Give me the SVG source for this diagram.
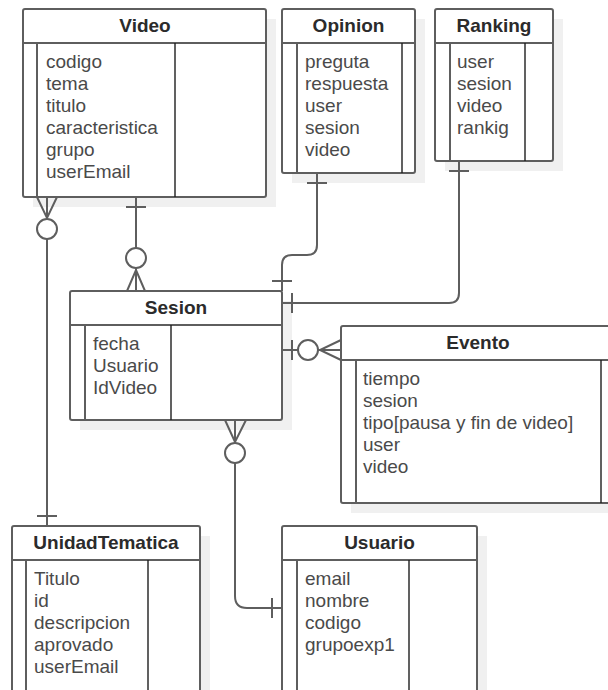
<svg xmlns="http://www.w3.org/2000/svg" width="608" height="690" viewBox="0 0 608 690">
<style>
.sh{fill:#f0f0f0;stroke:none}
.box{fill:#ffffff;stroke:#5e5e5e;stroke-width:2}
.ln{stroke:#5e5e5e;stroke-width:2;fill:none}
.dv{stroke:#1e1e1e;stroke-width:1.4;fill:none}
.t{font-family:"Liberation Sans",Arial,sans-serif;font-size:19px;font-weight:bold;fill:#2b2b2b;text-anchor:middle}
.a{font-family:"Liberation Sans",Arial,sans-serif;font-size:19px;fill:#4a4a4a}
.c{fill:#ffffff;stroke:#5e5e5e;stroke-width:2}
</style>
<rect width="608" height="690" fill="#ffffff"/>
<g id="shadows">
<rect class="sh" x="33" y="19" width="243" height="188"/>
<rect class="sh" x="292" y="19" width="133" height="164"/>
<rect class="sh" x="445" y="19" width="118" height="152"/>
<rect class="sh" x="80" y="301" width="212" height="129"/>
<rect class="sh" x="351" y="336" width="274" height="177"/>
<rect class="sh" x="22" y="536" width="188" height="180"/>
<rect class="sh" x="292" y="536" width="195" height="180"/>
</g>
<g id="connectors">
<!-- Video - UnidadTematica -->
<line class="ln" x1="47" y1="197" x2="47" y2="526"/>
<path class="ln" d="M37,197 L47,218 L57,197"/>
<circle class="c" cx="47" cy="229" r="10"/>
<line class="ln" x1="37" y1="516" x2="57" y2="516"/>
<!-- Video - Sesion -->
<line class="ln" x1="136" y1="197" x2="136" y2="291"/>
<line class="ln" x1="126" y1="207" x2="146" y2="207"/>
<circle class="c" cx="136" cy="258" r="10"/>
<path class="ln" d="M127,291 L136,270 L145,291"/>
<!-- Opinion - Sesion -->
<path class="ln" d="M317,173 V245 Q317,255 307,255 H292 Q282,255 282,265 V291"/>
<line class="ln" x1="307" y1="183" x2="327" y2="183"/>
<line class="ln" x1="272" y1="281" x2="292" y2="281"/>
<!-- Ranking - Sesion -->
<path class="ln" d="M459,161 V293 Q459,303 449,303 H282"/>
<line class="ln" x1="449" y1="171" x2="469" y2="171"/>
<line class="ln" x1="292" y1="293" x2="292" y2="313"/>
<!-- Sesion - Evento -->
<line class="ln" x1="282" y1="350" x2="341" y2="350"/>
<line class="ln" x1="292" y1="340" x2="292" y2="360"/>
<circle class="c" cx="308" cy="350" r="10"/>
<path class="ln" d="M341,340 L320,350 L341,360"/>
<!-- Sesion - Usuario -->
<path class="ln" d="M235,420 V596 Q235,608 247,608 H282"/>
<path class="ln" d="M225,420 L235,442 L246,420"/>
<circle class="c" cx="235" cy="453" r="10"/>
<line class="ln" x1="272" y1="598" x2="272" y2="618"/>
</g>
<g id="Video">
<rect class="box" x="23" y="9" width="243" height="188" rx="2"/>
<line class="ln" x1="23" y1="43" x2="266" y2="43"/>
<line class="ln" x1="37" y1="43" x2="37" y2="197"/>
<line class="dv" x1="175" y1="43" x2="175" y2="197"/>
<text class="t" x="145" y="32">Video</text>
<text class="a" x="46" y="68">codigo</text>
<text class="a" x="46" y="90">tema</text>
<text class="a" x="46" y="112">titulo</text>
<text class="a" x="46" y="134">caracteristica</text>
<text class="a" x="46" y="156">grupo</text>
<text class="a" x="46" y="178">userEmail</text>
</g>
<g id="Opinion">
<rect class="box" x="282" y="9" width="133" height="164" rx="2"/>
<line class="ln" x1="282" y1="43" x2="415" y2="43"/>
<line class="ln" x1="297" y1="43" x2="297" y2="173"/>
<line class="dv" x1="402" y1="43" x2="402" y2="173"/>
<text class="t" x="348.5" y="32">Opinion</text>
<text class="a" x="305" y="68">preguta</text>
<text class="a" x="305" y="90">respuesta</text>
<text class="a" x="305" y="112">user</text>
<text class="a" x="305" y="134">sesion</text>
<text class="a" x="305" y="156">video</text>
</g>
<g id="Ranking">
<rect class="box" x="435" y="9" width="118" height="152" rx="2"/>
<line class="ln" x1="435" y1="43" x2="553" y2="43"/>
<line class="ln" x1="450" y1="43" x2="450" y2="161"/>
<line class="dv" x1="525" y1="43" x2="525" y2="161"/>
<text class="t" x="494" y="32">Ranking</text>
<text class="a" x="457" y="68">user</text>
<text class="a" x="457" y="90">sesion</text>
<text class="a" x="457" y="112">video</text>
<text class="a" x="457" y="134">rankig</text>
</g>
<g id="Sesion">
<rect class="box" x="70" y="291" width="212" height="129" rx="2"/>
<line class="ln" x1="70" y1="325" x2="282" y2="325"/>
<line class="ln" x1="85" y1="325" x2="85" y2="420"/>
<line class="dv" x1="171" y1="325" x2="171" y2="420"/>
<text class="t" x="176" y="314">Sesion</text>
<text class="a" x="93" y="350">fecha</text>
<text class="a" x="93" y="372">Usuario</text>
<text class="a" x="93" y="394">IdVideo</text>
</g>
<g id="Evento">
<rect class="box" x="341" y="326" width="274" height="177" rx="2"/>
<line class="ln" x1="341" y1="360" x2="615" y2="360"/>
<line class="ln" x1="356" y1="360" x2="356" y2="503"/>
<line class="dv" x1="601" y1="360" x2="601" y2="503"/>
<text class="t" x="478" y="349">Evento</text>
<text class="a" x="363" y="385">tiempo</text>
<text class="a" x="363" y="407">sesion</text>
<text class="a" x="363" y="429">tipo[pausa y fin de video]</text>
<text class="a" x="363" y="451">user</text>
<text class="a" x="363" y="473">video</text>
</g>
<g id="UnidadTematica">
<rect class="box" x="12" y="526" width="188" height="180" rx="2"/>
<line class="ln" x1="12" y1="560" x2="200" y2="560"/>
<line class="ln" x1="26" y1="560" x2="26" y2="706"/>
<line class="dv" x1="148" y1="560" x2="148" y2="706"/>
<text class="t" x="106" y="549">UnidadTematica</text>
<text class="a" x="34" y="585">Titulo</text>
<text class="a" x="34" y="607">id</text>
<text class="a" x="34" y="629">descripcion</text>
<text class="a" x="34" y="651">aprovado</text>
<text class="a" x="34" y="673">userEmail</text>
</g>
<g id="Usuario">
<rect class="box" x="282" y="526" width="195" height="180" rx="2"/>
<line class="ln" x1="282" y1="560" x2="477" y2="560"/>
<line class="ln" x1="297" y1="560" x2="297" y2="706"/>
<line class="dv" x1="409" y1="560" x2="409" y2="706"/>
<text class="t" x="379.5" y="549">Usuario</text>
<text class="a" x="305" y="585">email</text>
<text class="a" x="305" y="607">nombre</text>
<text class="a" x="305" y="629">codigo</text>
<text class="a" x="305" y="651">grupoexp1</text>
</g>
</svg>
